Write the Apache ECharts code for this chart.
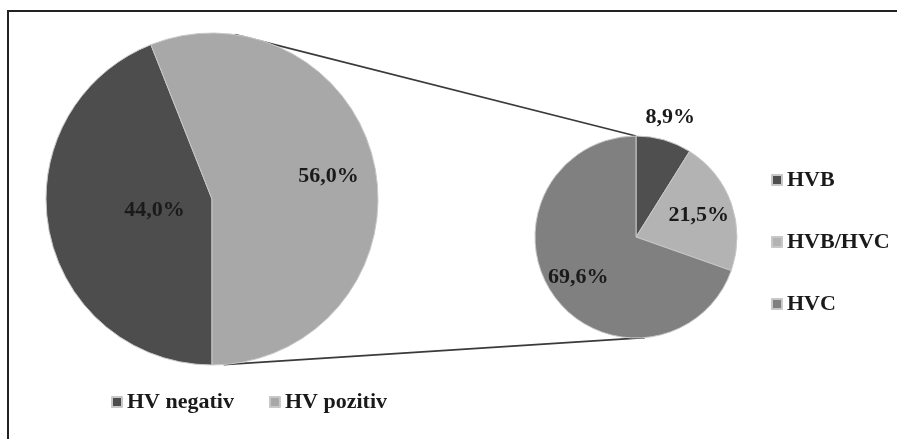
<!DOCTYPE html>
<html><head><meta charset="utf-8">
<script src="https://cdn.jsdelivr.net/npm/echarts@6/dist/echarts.min.js"></script>
<style>html,body{margin:0;padding:0;background:#fff}#c{width:897px;height:439px}</style>
</head><body><div id="c"></div>
<script>
// ---- data ----
const mainCategories = ['HV negativ', 'HV pozitiv'];
const mainValues = [44.0, 56.0];
const subCategories = ['HVB', 'HVB/HVC', 'HVC'];
const subValues = [8.9, 21.5, 69.6];

// ---- layout & style ----
const FONT = '"Liberation Serif", "Times New Roman", serif';
const bigC = [212, 199], bigR = 166;
const smallC = [636, 237], smallR = 101;
const mainColors = ['#4d4d4d', '#a8a8a8'];
const subColors = ['#4f4f4f', '#b3b3b3', '#808080'];
const mainLabelFactor = [0.34, 0.69];
const subLabelFactor = [1.16, 0.62, 0.66];

function fmt(v) { return v.toFixed(1).replace('.', ',') + '%'; }

function radialLayout(center, factors) {
  return function (p) {
    const r = p.labelRect;
    const lx = r.x + r.width / 2, ly = r.y + r.height / 2;
    const k = factors[p.dataIndex] / 0.5 - 1;
    return { dx: (lx - center[0]) * k, dy: (ly - center[1]) * k };
  };
}

function pt(center, R, deg) {
  const a = deg * Math.PI / 180;
  return [center[0] + R * Math.sin(a), center[1] - R * Math.cos(a)];
}

const textStyle = { fontFamily: FONT, fontSize: 22, fontWeight: 'bold', color: '#1a1a1a' };
const labelStyle = Object.assign({ show: true, position: 'inside', formatter: p => fmt(p.value) }, textStyle);

const t1 = pt(bigC, bigR, 8), t2 = pt(smallC, smallR, 0);
const b1 = pt(bigC, bigR, 176), b2 = pt(smallC, smallR, 175);

const chart = echarts.init(document.getElementById('c'), null, { renderer: 'canvas' });
chart.setOption({
  animation: false,
  backgroundColor: '#fff',
  graphic: [
    { type: 'rect', z: 0, shape: { x: 8, y: 11, width: 950, height: 500 },
      style: { fill: 'none', stroke: '#222', lineWidth: 2 } },
    { type: 'line', z: 1, shape: { x1: t1[0], y1: t1[1], x2: t2[0], y2: t2[1] },
      style: { stroke: '#3a3a3a', lineWidth: 1.8 } },
    { type: 'line', z: 1, shape: { x1: b1[0], y1: b1[1], x2: b2[0], y2: b2[1] },
      style: { stroke: '#3a3a3a', lineWidth: 1.8 } }
  ],
  legend: [
    { data: mainCategories, orient: 'horizontal', left: 106, top: 386,
      icon: 'rect', itemWidth: 10, itemHeight: 10, itemGap: 35, selectedMode: false,
      textStyle: textStyle },
    { data: subCategories, orient: 'vertical', left: 766, top: 164,
      icon: 'rect', itemWidth: 10, itemHeight: 10, itemGap: 40, selectedMode: false,
      textStyle: textStyle }
  ],
  series: [
    {
      type: 'pie', center: bigC, radius: [0, bigR], startAngle: -90, clockwise: true,
      avoidLabelOverlap: false, silent: true, emphasis: { disabled: true },
      itemStyle: { borderColor: '#c8c8c8', borderWidth: 1 },
      label: labelStyle, labelLine: { show: false },
      labelLayout: radialLayout(bigC, mainLabelFactor),
      data: mainCategories.map((n, i) => ({ name: n, value: mainValues[i], itemStyle: { color: mainColors[i] } }))
    },
    {
      type: 'pie', center: smallC, radius: [0, smallR], startAngle: 90, clockwise: true,
      avoidLabelOverlap: false, silent: true, emphasis: { disabled: true },
      itemStyle: { borderColor: '#c8c8c8', borderWidth: 1 },
      label: labelStyle, labelLine: { show: false },
      labelLayout: radialLayout(smallC, subLabelFactor),
      data: subCategories.map((n, i) => ({ name: n, value: subValues[i], itemStyle: { color: subColors[i] } }))
    }
  ]
});
</script></body></html>
